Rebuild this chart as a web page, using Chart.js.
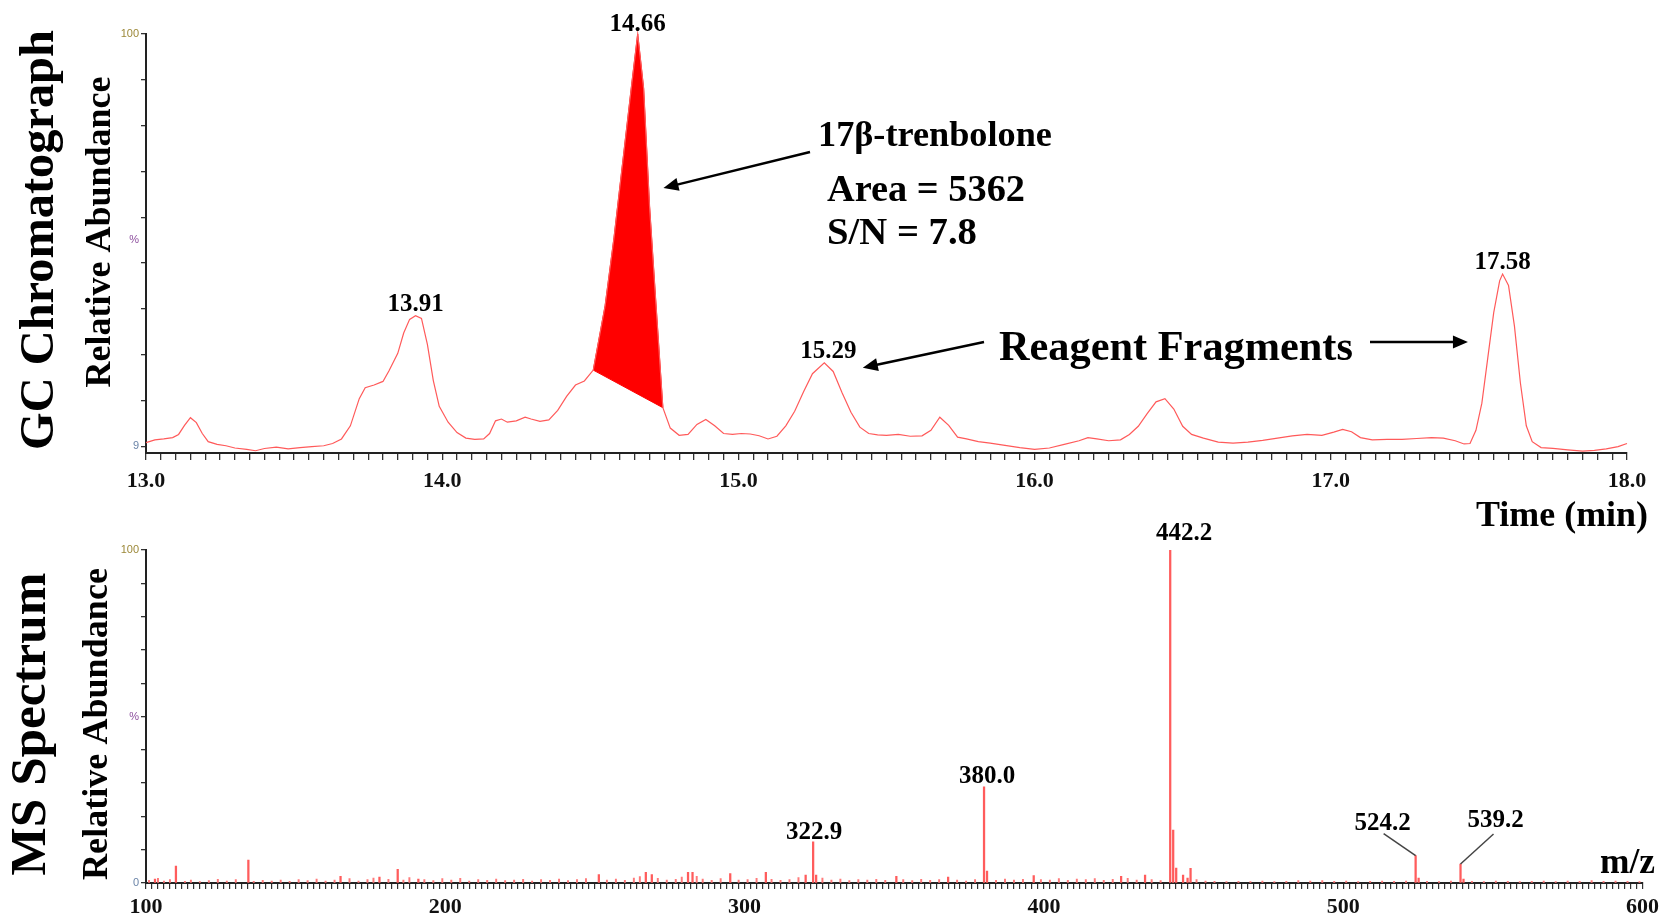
<!DOCTYPE html>
<html>
<head>
<meta charset="utf-8">
<script src="https://cdn.jsdelivr.net/npm/chart.js@4.4.0/dist/chart.umd.min.js"></script>
<style>
  html, body { margin: 0; padding: 0; background: #fff; }
  #wrap { position: relative; width: 1664px; height: 918px; overflow: hidden; background: #fff; }
  #gc { position: absolute; left: 0; top: 0; }
  #ms { position: absolute; left: 0; top: 500px; }
</style>
</head>
<body>
<div id="wrap">
  <canvas id="gc" width="1664" height="560"></canvas>
  <canvas id="ms" width="1664" height="418"></canvas>
</div>
<script>
// GC chromatogram (time in min, relative abundance %)
var gcTime = [
  13.00, 13.03, 13.06, 13.09, 13.11, 13.13, 13.15, 13.17, 13.19, 13.21,
  13.24, 13.27, 13.30, 13.34, 13.37, 13.40, 13.44, 13.48, 13.52, 13.56,
  13.60, 13.63, 13.66, 13.69, 13.72, 13.74, 13.77, 13.80, 13.82, 13.85,
  13.87, 13.89, 13.91, 13.93, 13.95, 13.97, 13.99, 14.02, 14.05, 14.08,
  14.11, 14.14, 14.16, 14.18, 14.20, 14.22, 14.25, 14.28, 14.30, 14.33,
  14.36, 14.39, 14.42, 14.45, 14.48, 14.51, 14.55, 14.58, 14.61, 14.64,
  14.66, 14.68, 14.70, 14.72, 14.745, 14.77, 14.80, 14.83, 14.86, 14.89,
  14.92, 14.95, 14.98, 15.01, 15.04, 15.07, 15.10, 15.13, 15.16, 15.19,
  15.22, 15.25, 15.29, 15.32, 15.35, 15.38, 15.41, 15.44, 15.47, 15.50,
  15.54, 15.58, 15.62, 15.65, 15.68, 15.71, 15.74, 15.77, 15.81, 15.85,
  15.90, 15.95, 16.00, 16.05, 16.10, 16.15, 16.18, 16.21, 16.25, 16.29,
  16.32, 16.35, 16.38, 16.41, 16.44, 16.47, 16.50, 16.53, 16.57, 16.62,
  16.67, 16.72, 16.77, 16.82, 16.87, 16.92, 16.97, 17.01, 17.04, 17.07,
  17.10, 17.14, 17.19, 17.24, 17.29, 17.34, 17.38, 17.42, 17.45, 17.47,
  17.49, 17.51, 17.53, 17.55, 17.57, 17.58, 17.60, 17.62, 17.64, 17.66,
  17.68, 17.71, 17.75, 17.80, 17.85, 17.89, 17.93, 17.97, 18.00
];
var gcAbund = [
  9.8, 10.4, 10.6, 10.9, 11.6, 13.6, 15.3, 14.2, 11.8, 10.0,
  9.4, 9.1, 8.6, 8.3, 8.0, 8.5, 8.8, 8.4, 8.7, 8.9,
  9.1, 9.6, 10.6, 13.5, 19.5, 21.9, 22.5, 23.3, 25.6, 29.5,
  34.0, 37.0, 37.8, 37.2, 31.5, 23.5, 17.8, 14.3, 12.0, 10.8,
  10.5, 10.6, 11.8, 14.6, 15.0, 14.3, 14.6, 15.4, 15.0, 14.5,
  14.8, 16.9, 20.0, 22.5, 23.4, 25.8, 40.0, 55.0, 72.0, 89.0,
  100.0, 88.0, 62.0, 42.0, 17.5, 13.0, 11.4, 11.6, 13.8, 14.9,
  13.5, 11.8, 11.6, 11.8, 11.7, 11.3, 10.6, 11.2, 13.5, 16.7,
  21.0, 25.0, 27.4, 25.5, 20.8, 16.5, 13.2, 11.8, 11.5, 11.4,
  11.6, 11.2, 11.3, 12.5, 15.4, 13.6, 11.0, 10.6, 10.0, 9.7,
  9.2, 8.7, 8.3, 8.6, 9.4, 10.2, 10.9, 10.6, 10.2, 10.4,
  11.6, 13.4, 16.2, 18.8, 19.5, 17.2, 13.4, 11.6, 10.8, 9.9,
  9.7, 9.9, 10.3, 10.8, 11.3, 11.6, 11.4, 12.1, 12.7, 12.2,
  10.9, 10.4, 10.5, 10.5, 10.7, 10.9, 10.8, 10.2, 9.5, 9.6,
  12.5, 18.5, 28.5, 38.5, 45.5, 47.0, 44.5, 35.5, 23.0, 13.5,
  10.0, 8.7, 8.5, 8.2, 7.9, 8.1, 8.4, 8.9, 9.6
];
var areaStart = 14.51;
var areaEnd = 14.745;
var gcPeakTimes = [13.91, 14.66, 15.29, 17.58];
var gcPeakLabels = ['13.91', '14.66', '15.29', '17.58'];
var gcYTickValues = [9, 19.11, 29.22, 39.33, 49.44, 54.5, 59.56, 69.67, 79.78, 89.89, 100];
var gcYTickLabels = ['9', '', '', '', '', '%', '', '', '', '', '100'];

// MS spectrum (m/z, relative abundance %)
var msMz = [
  442.2, 443.2, 444.2, 380.0, 381.0, 322.9, 323.9, 524.2, 525.2, 539.2,
  540.2, 134.2, 110.0, 184.1, 307.1, 281.1, 282.6, 267.0, 269.0, 251.3,
  295.2, 320.4, 449.0, 446.5, 448.0, 433.8, 425.8, 396.6, 368.0, 350.7,
  165.0, 178.0, 103.0, 191.0
];
var msAbund = [
  100, 15.9, 4.5, 28.9, 3.6, 12.4, 2.4, 8.2, 1.5, 5.7,
  1.2, 6.9, 5.1, 4.1, 3.2, 3.2, 3.2, 3.2, 2.5, 2.5,
  2.8, 2.4, 4.4, 2.4, 1.5, 2.4, 2.0, 2.2, 1.8, 2.0,
  2.0, 1.8, 1.2, 1.2
];
var msNoiseMz = [
  101, 104, 106, 108, 113, 115, 118, 121, 124, 127, 130, 136, 139, 142, 145, 148,
  151, 154, 157, 160, 163, 168, 171, 174, 176, 181, 186, 188, 193, 196, 199, 202,
  205, 208, 211, 214, 217, 220, 223, 226, 229, 232, 235, 238, 241, 244, 247, 254,
  257, 260, 263, 265, 271, 274, 277, 279, 284, 286, 289, 292, 298, 301, 304, 309,
  312, 315, 318, 326, 329, 332, 335, 338, 341, 344, 347, 353, 356, 359, 362, 365,
  371, 374, 377, 384, 387, 390, 393, 399, 402, 405, 408, 411, 414, 417, 420, 423,
  428, 431, 436, 439, 451, 454, 457, 461, 465, 469, 473, 477, 481, 485, 489, 493,
  497, 501, 505, 509, 513, 517, 521, 528, 532, 536, 543, 547, 551, 555, 559, 563,
  567, 571, 575, 579, 583, 587, 591, 595, 599
];
var msNoiseAbund = [
  0.8, 1.4, 0.6, 1.0, 0.5, 0.9, 0.4, 0.7, 1.1, 0.6, 1.0, 0.5, 0.8, 0.6, 0.9, 0.5,
  1.0, 0.7, 1.2, 0.6, 0.9, 1.3, 0.6, 1.0, 1.5, 1.1, 0.9, 1.6, 1.0, 0.7, 1.3, 0.9,
  1.4, 0.6, 1.0, 0.8, 1.2, 0.7, 0.9, 1.1, 0.6, 1.0, 0.8, 1.2, 0.7, 1.0, 1.3, 0.9,
  1.2, 0.8, 1.5, 1.9, 1.4, 0.9, 1.1, 1.8, 2.0, 1.2, 0.8, 1.3, 0.9, 1.0, 1.4, 1.1,
  0.8, 1.0, 1.6, 1.5, 0.9, 1.2, 0.7, 1.0, 0.9, 1.1, 0.8, 1.0, 0.7, 1.1, 0.8, 1.0,
  0.9, 0.6, 1.0, 0.8, 1.2, 0.9, 1.1, 1.0, 0.9, 1.3, 0.8, 1.2, 1.0, 1.3, 0.8, 1.1,
  1.4, 0.9, 1.0, 0.7, 1.0, 0.6, 0.5, 0.4, 0.5, 0.4, 0.6, 0.4, 0.5, 0.7, 0.6, 0.7,
  0.5, 0.6, 0.4, 0.5, 0.6, 0.5, 0.6, 0.5, 0.4, 0.6, 0.5, 0.4, 0.6, 0.5, 0.4, 0.5,
  0.6, 0.4, 0.6, 0.5, 0.7, 0.5, 0.6, 0.5, 0.4
];
var msLabelMz = [322.9, 380.0, 442.2, 524.2, 539.2];
var msLabels = ['322.9', '380.0', '442.2', '524.2', '539.2'];
var msYTickValues = [0, 10, 20, 30, 40, 50, 60, 70, 80, 90, 100];
var msYTickLabels = ['0', '', '', '', '', '%', '', '', '', '', '100'];

var SERIF = '"Liberation Serif", "Times New Roman", serif';
var TRACE = '#ff5a5a';

function fitSize(ctx, str, width) {
  ctx.font = 'bold 100px ' + SERIF;
  return 100 * width / ctx.measureText(str).width;
}
function text(ctx, str, x, y, size, align) {
  ctx.save();
  ctx.font = 'bold ' + size + 'px ' + SERIF;
  ctx.fillStyle = '#000';
  ctx.textAlign = align || 'left';
  ctx.textBaseline = 'alphabetic';
  ctx.fillText(str, x, y);
  ctx.restore();
}
function vtext(ctx, str, baseX, midY, width) {
  var size = fitSize(ctx, str, width);
  ctx.save();
  ctx.translate(baseX, midY);
  ctx.rotate(-Math.PI / 2);
  ctx.font = 'bold ' + size + 'px ' + SERIF;
  ctx.fillStyle = '#000';
  ctx.textAlign = 'center';
  ctx.textBaseline = 'alphabetic';
  ctx.fillText(str, 0, 0);
  ctx.restore();
}
function arrow(ctx, x1, y1, x2, y2) {
  var a = Math.atan2(y2 - y1, x2 - x1), h = 15, w = 6.5;
  ctx.save();
  ctx.strokeStyle = '#000';
  ctx.fillStyle = '#000';
  ctx.lineWidth = 2.5;
  ctx.beginPath();
  ctx.moveTo(x1, y1);
  ctx.lineTo(x2 - Math.cos(a) * h * 0.8, y2 - Math.sin(a) * h * 0.8);
  ctx.stroke();
  ctx.beginPath();
  ctx.moveTo(x2, y2);
  ctx.lineTo(x2 - h * Math.cos(a) + w * Math.sin(a), y2 - h * Math.sin(a) - w * Math.cos(a));
  ctx.lineTo(x2 - h * Math.cos(a) - w * Math.sin(a), y2 - h * Math.sin(a) + w * Math.cos(a));
  ctx.closePath();
  ctx.fill();
  ctx.restore();
}
function abundAt(t) {
  var best = 0;
  gcTime.forEach(function (v, i) { if (Math.abs(v - t) < Math.abs(gcTime[best] - t)) best = i; });
  return gcAbund[best];
}
function tickLabelColor(label) {
  if (label === '%') return '#8d4f9e';
  if (label === '100') return '#9c8838';
  return '#6a84a8';
}

// ---------- GC chromatogram ----------
var gcPoints = gcTime.map(function (t, i) { return {x: t, y: gcAbund[i]}; });
var areaPoints = gcPoints.filter(function (p) { return p.x >= areaStart - 1e-9 && p.x <= areaEnd + 1e-9; });
areaPoints.push({x: areaPoints[0].x, y: areaPoints[0].y});

var gcNotes = {
  id: 'gcNotes',
  afterDraw: function (chart) {
    var ctx = chart.ctx, xs = chart.scales.x, ys = chart.scales.y;
    vtext(ctx, 'GC Chromatograph', 53, 240, 420);
    vtext(ctx, 'Relative Abundance', 110, 232, 311);

    gcPeakTimes.forEach(function (t, i) {
      var gap = t === 14.66 ? 3 : 5;
      text(ctx, gcPeakLabels[i], xs.getPixelForValue(t) + (t === 15.29 ? 4 : 0),
        ys.getPixelForValue(abundAt(t)) - gap, 25, 'center');
    });

    text(ctx, '17\u03b2-trenbolone', 818, 146, fitSize(ctx, '17\u03b2-trenbolone', 234));
    text(ctx, 'Area = 5362', 827, 201, fitSize(ctx, 'Area = 5362', 198));
    text(ctx, 'S/N = 7.8', 827, 244, fitSize(ctx, 'S/N = 7.8', 150));
    arrow(ctx, 810, 152, xs.getPixelForValue(14.747), ys.getPixelForValue(66));

    text(ctx, 'Reagent Fragments', 999, 360, fitSize(ctx, 'Reagent Fragments', 354));
    arrow(ctx, 984, 342, xs.getPixelForValue(15.42), ys.getPixelForValue(26.3));
    arrow(ctx, 1370, 342, xs.getPixelForValue(17.463), ys.getPixelForValue(32));

    text(ctx, 'Time (min)', 1648, 526, fitSize(ctx, 'Time (min)', 172), 'right');
  }
};

new Chart(document.getElementById('gc'), {
  type: 'line',
  data: {
    datasets: [
      {data: gcPoints, borderColor: TRACE, borderWidth: 1.2, pointRadius: 0, fill: false, tension: 0, clip: false},
      {data: areaPoints, borderColor: '#ff0000', backgroundColor: '#ff0000', borderWidth: 1, pointRadius: 0, fill: 'shape', tension: 0, clip: false}
    ]
  },
  options: {
    responsive: false,
    animation: false,
    events: [],
    layout: {padding: {top: 34, right: 37, left: 0, bottom: 0}},
    plugins: {legend: {display: false}, tooltip: {enabled: false}},
    scales: {
      x: {
        type: 'linear', min: 13, max: 18, offset: false,
        afterFit: function (s) { s.height = 107; },
        border: {display: true, color: '#222', width: 2},
        grid: {drawOnChartArea: false, offset: false, tickLength: 7, tickColor: '#333', lineWidth: 1.3},
        ticks: {
          stepSize: 0.05, autoSkip: false, maxRotation: 0, minRotation: 0, padding: 8, color: '#111',
          font: {family: SERIF, size: 22, weight: 'bold'},
          callback: function (v) { return Math.abs(v - Math.round(v)) < 1e-6 ? Number(v).toFixed(1) : ''; }
        }
      },
      y: {
        min: 7.5, max: 100,
        afterFit: function (s) { s.width = 146; },
        afterBuildTicks: function (s) { s.ticks = gcYTickValues.map(function (v) { return {value: v}; }); },
        border: {display: true, color: '#222', width: 2},
        grid: {
          drawOnChartArea: false, tickLength: 5, lineWidth: 1.3,
          tickColor: function (c) { return c.tick && c.tick.value === 54.5 ? 'rgba(0,0,0,0)' : '#333'; }
        },
        ticks: {
          padding: 2, font: {family: '"Liberation Sans", Arial, sans-serif', size: 11},
          color: function (c) { return tickLabelColor(gcYTickLabels[gcYTickValues.indexOf(c.tick.value)]); },
          callback: function (v) { return gcYTickLabels[gcYTickValues.indexOf(v)]; }
        }
      }
    }
  },
  plugins: [gcNotes]
});

// ---------- MS spectrum ----------
var msLabelStyle = {
  '322.9': {dx: 1, dy: -3},
  '380.0': {dx: 3, dy: -4},
  '442.2': {dx: 14, dy: -10},
  '524.2': {dx: -33, dy: -26, lead: [1, 4]},
  '539.2': {dx: 35, dy: -37, lead: [-2, 7]}
};

var msNotes = {
  id: 'msNotes',
  afterDraw: function (chart) {
    var ctx = chart.ctx, xs = chart.scales.x, ys = chart.scales.y;
    vtext(ctx, 'MS Spectrum', 45, 224, 303);
    vtext(ctx, 'Relative Abundance', 107, 224, 312);

    msLabelMz.forEach(function (mz, i) {
      var st = msLabelStyle[msLabels[i]];
      var bx = xs.getPixelForValue(mz);
      var by = ys.getPixelForValue(msAbund[msMz.indexOf(mz)]);
      var lx = bx + st.dx, ly = by + st.dy;
      text(ctx, msLabels[i], lx, ly, 25, 'center');
      if (st.lead) {
        ctx.save();
        ctx.strokeStyle = '#444';
        ctx.lineWidth = 1.5;
        ctx.beginPath();
        ctx.moveTo(lx + st.lead[0], ly + st.lead[1]);
        ctx.lineTo(bx, by);
        ctx.stroke();
        ctx.restore();
      }
    });

    text(ctx, 'm/z', 1600, 373, fitSize(ctx, 'm/z', 55));
  }
};

new Chart(document.getElementById('ms'), {
  type: 'bar',
  data: {
    datasets: [
      {data: msMz.map(function (m, i) { return {x: m, y: msAbund[i]}; }),
        backgroundColor: '#ff5c5c', borderWidth: 0, barThickness: 1.6, grouped: false},
      {data: msNoiseMz.map(function (m, i) { return {x: m, y: msNoiseAbund[i]}; }),
        backgroundColor: '#ff7a7a', borderWidth: 0, barThickness: 1.3, grouped: false}
    ]
  },
  options: {
    responsive: false,
    animation: false,
    events: [],
    layout: {padding: {top: 50, right: 19, left: 0, bottom: 0}},
    plugins: {legend: {display: false}, tooltip: {enabled: false}},
    scales: {
      x: {
        type: 'linear', min: 100, max: 600, offset: false,
        afterFit: function (s) { s.height = 35; },
        border: {display: true, color: '#222', width: 2},
        grid: {drawOnChartArea: false, offset: false, tickLength: 6, tickColor: '#333', lineWidth: 1.2},
        ticks: {
          stepSize: 2, autoSkip: false, maxRotation: 0, minRotation: 0, padding: 5, color: '#111',
          font: {family: SERIF, size: 22, weight: 'bold'},
          callback: function (v) { return v % 100 === 0 ? String(v) : ''; }
        }
      },
      y: {
        min: 0, max: 100,
        afterFit: function (s) { s.width = 146; },
        afterBuildTicks: function (s) { s.ticks = msYTickValues.map(function (v) { return {value: v}; }); },
        border: {display: true, color: '#222', width: 2},
        grid: {drawOnChartArea: false, tickLength: 5, lineWidth: 1.3, tickColor: '#333'},
        ticks: {
          padding: 2, font: {family: '"Liberation Sans", Arial, sans-serif', size: 11},
          color: function (c) { return tickLabelColor(msYTickLabels[msYTickValues.indexOf(c.tick.value)]); },
          callback: function (v) { return msYTickLabels[msYTickValues.indexOf(v)]; }
        }
      }
    }
  },
  plugins: [msNotes]
});
</script>
</body>
</html>
